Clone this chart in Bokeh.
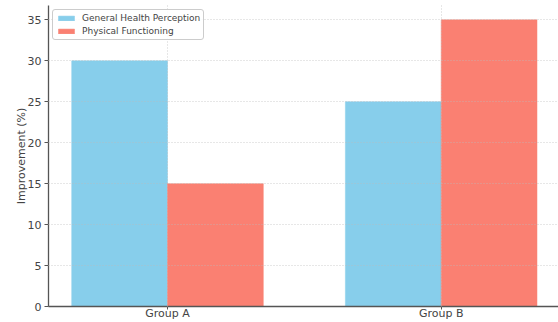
import numpy as np
from bokeh.plotting import figure
from bokeh.models import Range1d, FixedTicker, Legend, LegendItem
from bokeh.embed import file_html
from bokeh.resources import INLINE

groups = ["Group A", "Group B"]
series_names = ["General Health Perception", "Physical Functioning"]
general_health = [30, 25]
physical_functioning = [15, 35]
y_ticks = [0, 5, 10, 15, 20, 25, 30, 35]

colors = ["#87CEEB", "#FA8072"]
bar_w = 0.35
idx = np.arange(len(groups))

p = figure(width=558, height=322, output_backend="svg", toolbar_location=None,
           x_range=Range1d(-0.4348, 1.4286), y_range=Range1d(0, 36.75),
           min_border_left=48, min_border_right=0, min_border_top=5, min_border_bottom=0)
p.outline_line_color = None
p.background_fill_color = "white"
p.border_fill_color = "white"

r1 = p.vbar(x=idx - bar_w / 2, top=general_health, width=bar_w, bottom=0,
            fill_color=colors[0], line_color=colors[0], line_alpha=0.5)
r2 = p.vbar(x=idx + bar_w / 2, top=physical_functioning, width=bar_w, bottom=0,
            fill_color=colors[1], line_color=colors[1], line_alpha=0.5)

font = "DejaVu Sans"
# axes
p.xaxis.ticker = FixedTicker(ticks=list(idx))
p.xaxis.major_label_overrides = {int(i): g for i, g in zip(idx, groups)}
p.xaxis.minor_tick_line_color = None
p.xaxis.major_tick_out = 3
p.xaxis.major_tick_in = 0
p.xaxis.major_label_standoff = -3
p.xaxis.axis_line_color = "#555555"
p.xaxis.axis_line_width = 1.3
p.xaxis.major_tick_line_color = "#555555"
p.xaxis.major_label_text_font = font
p.xaxis.major_label_text_font_size = "11px"
p.xaxis.major_label_text_color = "#444444"

p.yaxis.ticker = FixedTicker(ticks=y_ticks)
p.yaxis.minor_tick_line_color = None
p.yaxis.major_tick_out = 4
p.yaxis.major_tick_in = 0
p.yaxis.major_label_standoff = 3
p.yaxis.axis_line_color = "#555555"
p.yaxis.axis_line_width = 1.3
p.yaxis.major_tick_line_color = "#555555"
p.yaxis.major_label_text_font = font
p.yaxis.major_label_text_font_size = "11px"
p.yaxis.major_label_text_color = "#444444"
p.yaxis.axis_label = "Improvement (%)"
p.yaxis.axis_label_text_font = font
p.yaxis.axis_label_text_font_size = "11px"
p.yaxis.axis_label_text_font_style = "normal"
p.yaxis.axis_label_text_color = "#444444"
p.yaxis.axis_label_standoff = -3

# grid
for g in (p.xgrid, p.ygrid):
    g.grid_line_color = "#bbbbbb"
    g.grid_line_dash = "1 2"
    g.grid_line_alpha = 0.7
    g.level = "annotation"
p.ygrid.ticker = FixedTicker(ticks=y_ticks)
p.xgrid.ticker = FixedTicker(ticks=list(idx))

legend = Legend(items=[LegendItem(label=series_names[0], renderers=[r1]),
                       LegendItem(label=series_names[1], renderers=[r2])],
                location="top_left")
legend.margin = 4
legend.padding = 3
legend.spacing = 3
legend.glyph_width = 20
legend.glyph_height = 6
legend.label_height = 9
legend.label_standoff = 6
legend.label_text_font = font
legend.label_text_font_size = "9px"
legend.label_text_color = "#444444"
legend.border_line_color = "#cccccc"
legend.border_line_alpha = 1
legend.background_fill_alpha = 0.85
legend.border_radius = 3
p.add_layout(legend)

open("out.html", "w").write(file_html(p, INLINE))
